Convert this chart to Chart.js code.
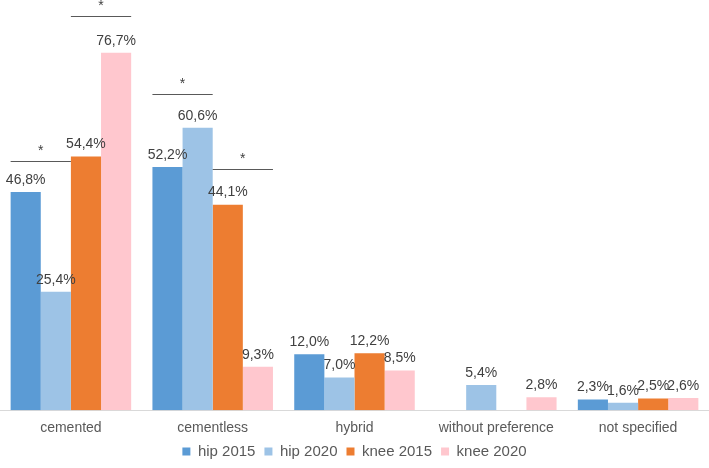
<!DOCTYPE html>
<html>
<head>
<meta charset="utf-8">
<script src="https://cdn.jsdelivr.net/npm/chart.js"></script>
<style>
  body { margin: 0; background: #fff; }
  #wrap { width: 709px; height: 468px; }
</style>
</head>
<body>
<div id="wrap"><canvas id="chart"></canvas></div>
<script>
// categories and series values (percent)
const categories = ["cemented", "cementless", "hybrid", "without preference", "not specified"];
const hip2015 = [46.8, 52.2, 12.0, null, 2.3];
const hip2020 = [25.4, 60.6, 7.0, 5.4, 1.6];
const knee2015 = [54.4, 44.1, 12.2, null, 2.5];
const knee2020 = [76.7, 9.3, 8.5, 2.8, 2.6];

// significance brackets: category index, first/last series index, height in %
const sigMarks = [
    { cat: 0, from: 0, to: 1, level: 53.5 },
    { cat: 0, from: 2, to: 3, level: 84.6 },
    { cat: 1, from: 0, to: 1, level: 67.9 },
    { cat: 1, from: 2, to: 3, level: 51.8 }
];

const textCol = "#404040";
const fontFam = "'Liberation Sans', Arial, sans-serif";
const fmt = v => v.toFixed(1).replace(".", ",") + "%";

// value labels above each bar
const barLabels = {
    id: "barLabels",
    afterDatasetsDraw(chart) {
        const ctx = chart.ctx;
        ctx.save();
        ctx.font = "14px " + fontFam;
        ctx.fillStyle = textCol;
        ctx.textAlign = "center";
        ctx.textBaseline = "bottom";
        chart.data.datasets.forEach((ds, i) => {
            const meta = chart.getDatasetMeta(i);
            meta.data.forEach((bar, j) => {
                const v = ds.data[j];
                if (v === null) return;
                ctx.fillText(fmt(v), bar.x, bar.y - 5);
            });
        });
        ctx.restore();
    }
};

// significance lines with asterisks
const sigLines = {
    id: "sigLines",
    afterDatasetsDraw(chart) {
        const ctx = chart.ctx;
        const yS = chart.scales.y;
        ctx.save();
        ctx.strokeStyle = "#595959";
        ctx.lineWidth = 1;
        ctx.fillStyle = textCol;
        ctx.font = "14px " + fontFam;
        ctx.textAlign = "center";
        ctx.textBaseline = "bottom";
        sigMarks.forEach(m => {
            const a = chart.getDatasetMeta(m.from).data[m.cat];
            const b = chart.getDatasetMeta(m.to).data[m.cat];
            const x1 = a.x - a.width / 2;
            const x2 = b.x + b.width / 2;
            const y = Math.round(yS.getPixelForValue(m.level)) + 0.5;
            ctx.beginPath();
            ctx.moveTo(x1, y);
            ctx.lineTo(x2, y);
            ctx.stroke();
            ctx.fillText("*", (x1 + x2) / 2, y - 3);
        });
        ctx.restore();
    }
};

new Chart("chart", {
    type: "bar",
    data: {
        labels: categories,
        datasets: [
            { label: "hip 2015", data: hip2015, backgroundColor: "#5B9BD5" },
            { label: "hip 2020", data: hip2020, backgroundColor: "#9DC3E6" },
            { label: "knee 2015", data: knee2015, backgroundColor: "#ED7D31" },
            { label: "knee 2020", data: knee2020, backgroundColor: "#FFC7CE" }
        ]
    },
    options: {
        responsive: true,
        maintainAspectRatio: false,
        animation: false,
        layout: { padding: { left: 0, right: 0, top: 0, bottom: -1 } },
        datasets: { bar: { categoryPercentage: 0.85, barPercentage: 1.0 } },
        scales: {
            x: {
                grid: { display: false },
                border: { display: true, color: "#D9D9D9", width: 1 },
                ticks: {
                    color: "#595959",
                    font: { family: fontFam, size: 14 },
                    padding: 2
                },
                afterFit(scale) { scale.height -= 4; }
            },
            y: { display: false, min: 0, max: 88 }
        },
        plugins: {
            legend: {
                position: "bottom",
                labels: {
                    color: "#595959",
                    font: { family: fontFam, size: 15 },
                    boxWidth: 8,
                    boxHeight: 8,
                    padding: 9
                }
            },
            tooltip: { enabled: false }
        }
    },
    plugins: [barLabels, sigLines]
});
</script>
</body>
</html>
